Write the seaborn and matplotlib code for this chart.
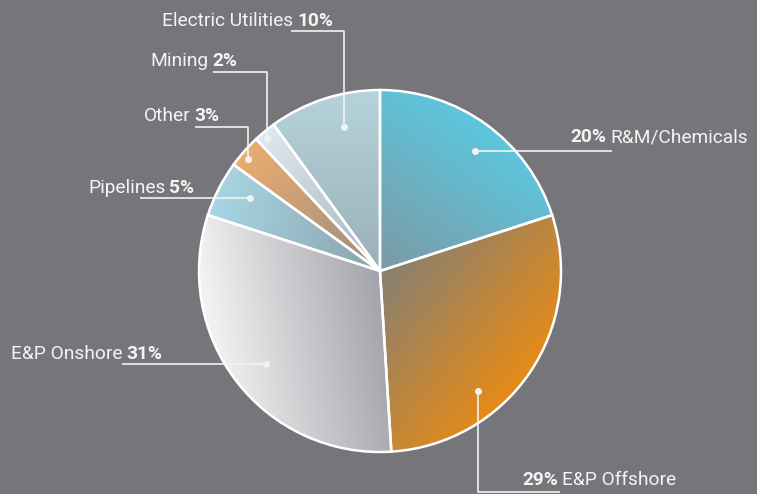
import numpy as np
import matplotlib
matplotlib.use("Agg")
import matplotlib.pyplot as plt
import seaborn as sns
from matplotlib.colors import to_rgb

# ---- data ----
categories = ["R&M/Chemicals", "E&P Offshore", "E&P Onshore", "Pipelines",
              "Other", "Mining", "Electric Utilities"]
shares = [20, 29, 31, 5, 3, 2, 10]
pct_labels = [f"{v}%" for v in shares]

# gradient colours per slice (inner, outer) and gradient direction (deg, screen)
inner_cols = ["#7d99a4", "#878073", "#a2a2aa", "#8aa2ad", "#9c8c82", "#a9b2ba", "#9ab0b9"]
outer_cols = ["#5cc7df", "#e68b17", "#f4f4f4", "#a8d6e4", "#e9ad6e", "#dfeaf0", "#b6d3db"]
grad_dirs = [55, -40, 190, 165, 140, 120, 90]

# ---- layout (annotation positions in pixel space, y measured from top) ----
label_pos = [(570, 142, "pct_first"), (522, 485, "pct_first"), (11, 359, "name_first"),
             (88, 193, "name_first"), (144, 121, "name_first"), (150, 66, "name_first"),
             (162, 26, "name_first")]
label_widths = [171, 150, 148, 79, 78, 90, 166]
leaders = [
    [(475, 151), (612, 151)],
    [(478, 391), (478, 492), (560, 492)],
    [(266, 364), (122, 364)],
    [(250, 198), (140, 198)],
    [(248, 159), (248, 127), (195, 127)],
    [(267, 138), (267, 72), (213, 72)],
    [(344, 127), (344, 31), (291, 31)],
]

W, H = 757, 494
CX, CY, R = 380, H - 271, 181

sns.set_theme(style="white")
plt.rcParams["font.family"] = ["Liberation Sans Narrow", "Roboto", "DejaVu Sans"]

bg = "#76757a"
fig = plt.figure(figsize=(W / 100, H / 100), dpi=100)
fig.patch.set_facecolor(bg)
ax = fig.add_axes([0, 0, 1, 1])
ax.set_facecolor(bg)

wedges, _ = ax.pie(shares, startangle=90, counterclock=False, center=(CX, CY), radius=R,
                   wedgeprops=dict(edgecolor="white", linewidth=1.8, facecolor="none", zorder=3))

# gradient fills clipped to each wedge
ext = (CX - R - 2, CX + R + 2, CY - R - 2, CY + R + 2)
n = 400
xs = np.linspace(ext[0], ext[1], n)
ys = np.linspace(ext[2], ext[3], n)
XX, YY = np.meshgrid(xs, ys)
for w, ci, co, ang in zip(wedges, inner_cols, outer_cols, grad_dirs):
    d = np.array([np.cos(np.radians(ang)), np.sin(np.radians(ang))])
    t = ((XX - CX) * d[0] + (YY - CY) * d[1]) / R
    t = np.clip(t, 0, 1)[..., None]
    img = np.array(to_rgb(ci)) * (1 - t) + np.array(to_rgb(co)) * t
    im = ax.imshow(img, extent=ext, origin="lower", zorder=2, interpolation="bilinear")
    im.set_clip_path(w)

ax.set_xlim(0, W)
ax.set_ylim(0, H)
ax.set_aspect("auto")
ax.axis("off")

# leaders
for pts in leaders:
    px = [p[0] for p in pts]
    py = [H - p[1] for p in pts]
    ax.plot(px, py, color="#f2f2f2", lw=1.2, zorder=4, solid_capstyle="butt")
    ax.plot(px[0], py[0], "o", color="#f2f2f2", ms=4, zorder=5)

# labels (mixed weight) -- find a common font size that matches the widths
fig.canvas.draw()
renderer = fig.canvas.get_renderer()
tc = "#f4f4f4"


def parts(name, pct, mode):
    if mode == "name_first":
        return name, "normal", pct, "bold"
    return pct, "bold", name, "normal"


def measure(fs):
    total = 0
    for name, pct, (x, y, mode) in zip(categories, pct_labels, label_pos):
        a, fa, b, fb = parts(name, pct, mode)
        t1 = ax.text(0, 0, a, fontsize=fs, fontweight=fa)
        t2 = ax.text(0, 0, b, fontsize=fs, fontweight=fb)
        total += t1.get_window_extent(renderer).width + t2.get_window_extent(renderer).width + 4
        t1.remove(); t2.remove()
    return total


fs = 1.06 * 10 * sum(label_widths) / measure(10)

for name, pct, (x, y, mode) in zip(categories, pct_labels, label_pos):
    a, fa, b, fb = parts(name, pct, mode)
    t1 = ax.text(x, H - y, a, fontsize=fs, fontweight=fa, color=tc,
                 ha="left", va="baseline", zorder=6)
    bb = t1.get_window_extent(renderer)
    ax.text(bb.x1 + 4, H - y, b, fontsize=fs, fontweight=fb, color=tc,
            ha="left", va="baseline", zorder=6)

fig.savefig("out.png", dpi=100, facecolor=bg)
